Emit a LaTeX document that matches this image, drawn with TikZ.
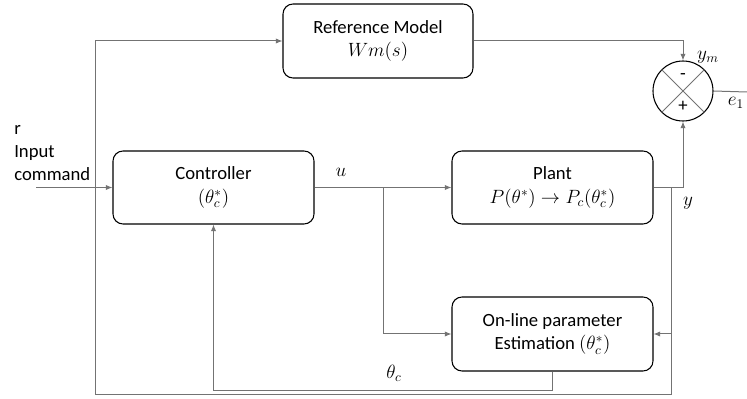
\documentclass[tikz,border=0pt]{standalone}
\usepackage{fontspec}
\setmainfont{Carlito}
\usetikzlibrary{arrows.meta}
\begin{document}
\begin{tikzpicture}[x=0.75pt,y=-0.75pt,
  blk/.style={draw=black,line width=0.8pt,rounded corners=7.5pt,align=center,
    font=\fontsize{14}{17.5}\selectfont,inner sep=0pt},
  wire/.style={draw=black!55,line width=0.75pt},
  arr/.style={wire,-{Latex[length=5pt,width=4pt]}},
  lbl/.style={font=\fontsize{14}{17}\selectfont,inner sep=0pt}]
\useasboundingbox (0,0) rectangle (747,399);
% blocks
\node[blk,minimum width=142.5pt,minimum height=55.5pt] (ref) at (378,41) {Reference Model\\$Wm(s)$};
\node[blk,minimum width=150.75pt,minimum height=54.75pt] (ctrl) at (213.5,187.5) {Controller\\$(\theta_c^{*})$};
\node[blk,minimum width=150.75pt,minimum height=54.75pt] (plant) at (552.5,187.5) {Plant\\$P(\theta^{*})\rightarrow P_c(\theta_c^{*})$};
\node[blk,minimum width=150.75pt,minimum height=55.5pt] (est) at (552.5,334) {On-line parameter\\Estimation $(\theta_c^{*})$};
\node[draw=black,line width=0.8pt,circle,minimum size=45pt,inner sep=0pt] (sum) at (683,91) {};
\draw[wire] (sum.north west) -- (sum.south east);
\draw[wire] (sum.north east) -- (sum.south west);
\node[lbl] (minus) at (683,77) {-};
\node[lbl] (plus) at (683,106) {+};
% coordinates
\coordinate (in) at (36,187.5);
\coordinate (bl) at (95,394);
\coordinate (br) at (383,187.5);
\coordinate (yb) at (671,187.5);
\coordinate (ybot) at (671,394);
\coordinate (thb) at (552.5,390);
\coordinate (eend) at (747,92);
% connectors
\draw[arr] (in) -- (ctrl.west);
\draw[arr] (bl) |- (ref.west);
\draw[arr] (ref.east) -| (sum.north);
\draw[wire] (sum.east) -- (eend);
\draw[arr] (ctrl.east) -- (plant.west);
\draw[arr] (br) |- (est.west);
\draw[arr] (plant.east) -| (sum.south);
\draw[arr] (yb) |- (est.east);
\draw[wire] (yb) -- (ybot) -- (bl);
\draw[arr] (est.south) -- (thb) -| (ctrl.south);
% labels
\node[lbl,anchor=west,align=left] (rtxt) at (14,153) {r\\Input\\command};
\node[lbl] (ulbl) at (341,172) {$u$};
\node[lbl] (ylbl) at (688,203) {$y$};
\node[lbl] (thlbl) at (394,373) {$\theta_c$};
\node[lbl] (ymlbl) at (708,57) {$y_m$};
\node[lbl] (elbl) at (736,103) {$e_1$};
\end{tikzpicture}
\end{document}
